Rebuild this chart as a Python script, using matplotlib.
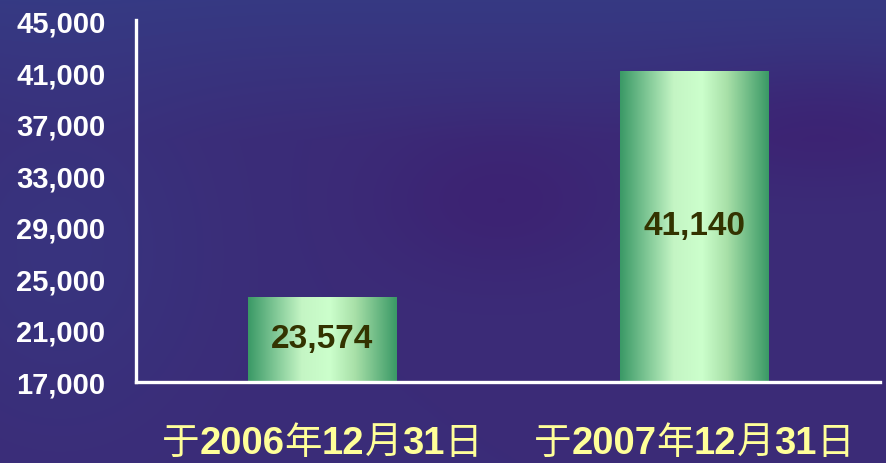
import numpy as np
import matplotlib
matplotlib.use("Agg")
import matplotlib.pyplot as plt
from matplotlib.colors import LinearSegmentedColormap, to_rgb
from matplotlib.offsetbox import TextArea, HPacker, AnnotationBbox

# ---- data ----
categories = [["于", "2006", "年", "12", "月", "31", "日"],
              ["于", "2007", "年", "12", "月", "31", "日"]]
values = [23574, 41140]
value_labels = ["23,574", "41,140"]
yticks = [17000, 21000, 25000, 29000, 33000, 37000, 41000, 45000]
ytick_labels = ["17,000", "21,000", "25,000", "29,000", "33,000", "37,000", "41,000", "45,000"]

W, H = 886, 463
fig = plt.figure(figsize=(W / 100, H / 100), dpi=100)

# ---- background (dark blue/purple textured look) ----
bg = fig.add_axes([0, 0, 1, 1], zorder=-10)
bg.set_axis_off()
yy, xx = np.mgrid[0:H, 0:W]
base = np.array(to_rgb("#3b2c78"))
blue = np.array(to_rgb("#33428a"))
purple = np.array(to_rgb("#3e1a6e"))
wb = np.clip(1 - yy / 140.0, 0, 1) * 0.6 + np.exp(-((xx - 60) ** 2 / 2e4 + (yy - 250) ** 2 / 3e4)) * 0.35
wp = np.exp(-((xx - 500) ** 2 / 1.5e4 + (yy - 200) ** 2 / 6e3)) * 0.5 + \
     np.exp(-((xx - 820) ** 2 / 2e4 + (yy - 120) ** 2 / 4e3)) * 0.5
img = base[None, None, :] * (1 - wb - wp)[..., None] + blue * wb[..., None] + purple * wp[..., None]
img = np.clip(img, 0, 1)
bg.imshow(img, extent=[0, 1, 0, 1], aspect="auto", transform=bg.transAxes)
bg.set_xlim(0, 1)
bg.set_ylim(0, 1)

# ---- main axes ----
ax = fig.add_axes([136 / W, 1 - 382 / H, (880 - 136) / W, (382 - 22) / H])
ax.patch.set_alpha(0)

for s in ["top", "right"]:
    ax.spines[s].set_visible(False)
for s in ["left", "bottom"]:
    ax.spines[s].set_color("white")
    ax.spines[s].set_linewidth(2.4)
    ax.spines[s].set_zorder(5)
ax.spines["left"].set_bounds(17000, 45150)

ax.set_yticks(yticks)
ax.set_yticklabels(ytick_labels, fontfamily="Liberation Sans", fontweight="bold",
                   fontsize=21, color="white")
ax.tick_params(axis="y", length=0, pad=22)
ax.set_xticks([])

# gradient bars
cmap = LinearSegmentedColormap.from_list(
    "bar", [(0.0, "#3a9966"), (0.36, "#c4f5c4"), (0.55, "#ccffcc"), (0.72, "#a8e0a8"), (1.0, "#3a9966")])
grad = np.linspace(0, 1, 256)[None, :]
width = 0.4
bars = ax.bar(range(len(values)), values, width=width, bottom=0, color="none", zorder=2)
for b, v, lab in zip(bars, values, value_labels):
    x0 = b.get_x()
    ax.imshow(grad, cmap=cmap, aspect="auto", extent=[x0, x0 + width, 17000, v], zorder=2)
    ax.text(b.get_x() + width / 2, (17000 + v) / 2, lab, ha="center", va="center",
            fontfamily="Liberation Sans", fontweight="bold", fontsize=24, color="#333300", zorder=3)
ax.set_xlim(-0.5, 1.5)
ax.set_ylim(17000, 45000)

# category labels: CJK regular, digits bold
for i, parts in enumerate(categories):
    children = []
    for p in parts:
        if p.isdigit():
            props = dict(family="Liberation Sans", weight="bold", size=27.5, color="#ffff99")
        else:
            props = dict(family="Noto Sans CJK SC", weight="normal", size=27, color="#ffff99")
        children.append(TextArea(p, textprops=props))
    pack = HPacker(children=children, align="baseline", pad=0, sep=0)
    ab = AnnotationBbox(pack, (i, 0), xycoords=("data", "axes fraction"),
                        xybox=(0, -44), boxcoords="offset points",
                        frameon=False, box_alignment=(0.5, 0.5), annotation_clip=False)
    ax.add_artist(ab)

fig.savefig("out.png", dpi=100)
